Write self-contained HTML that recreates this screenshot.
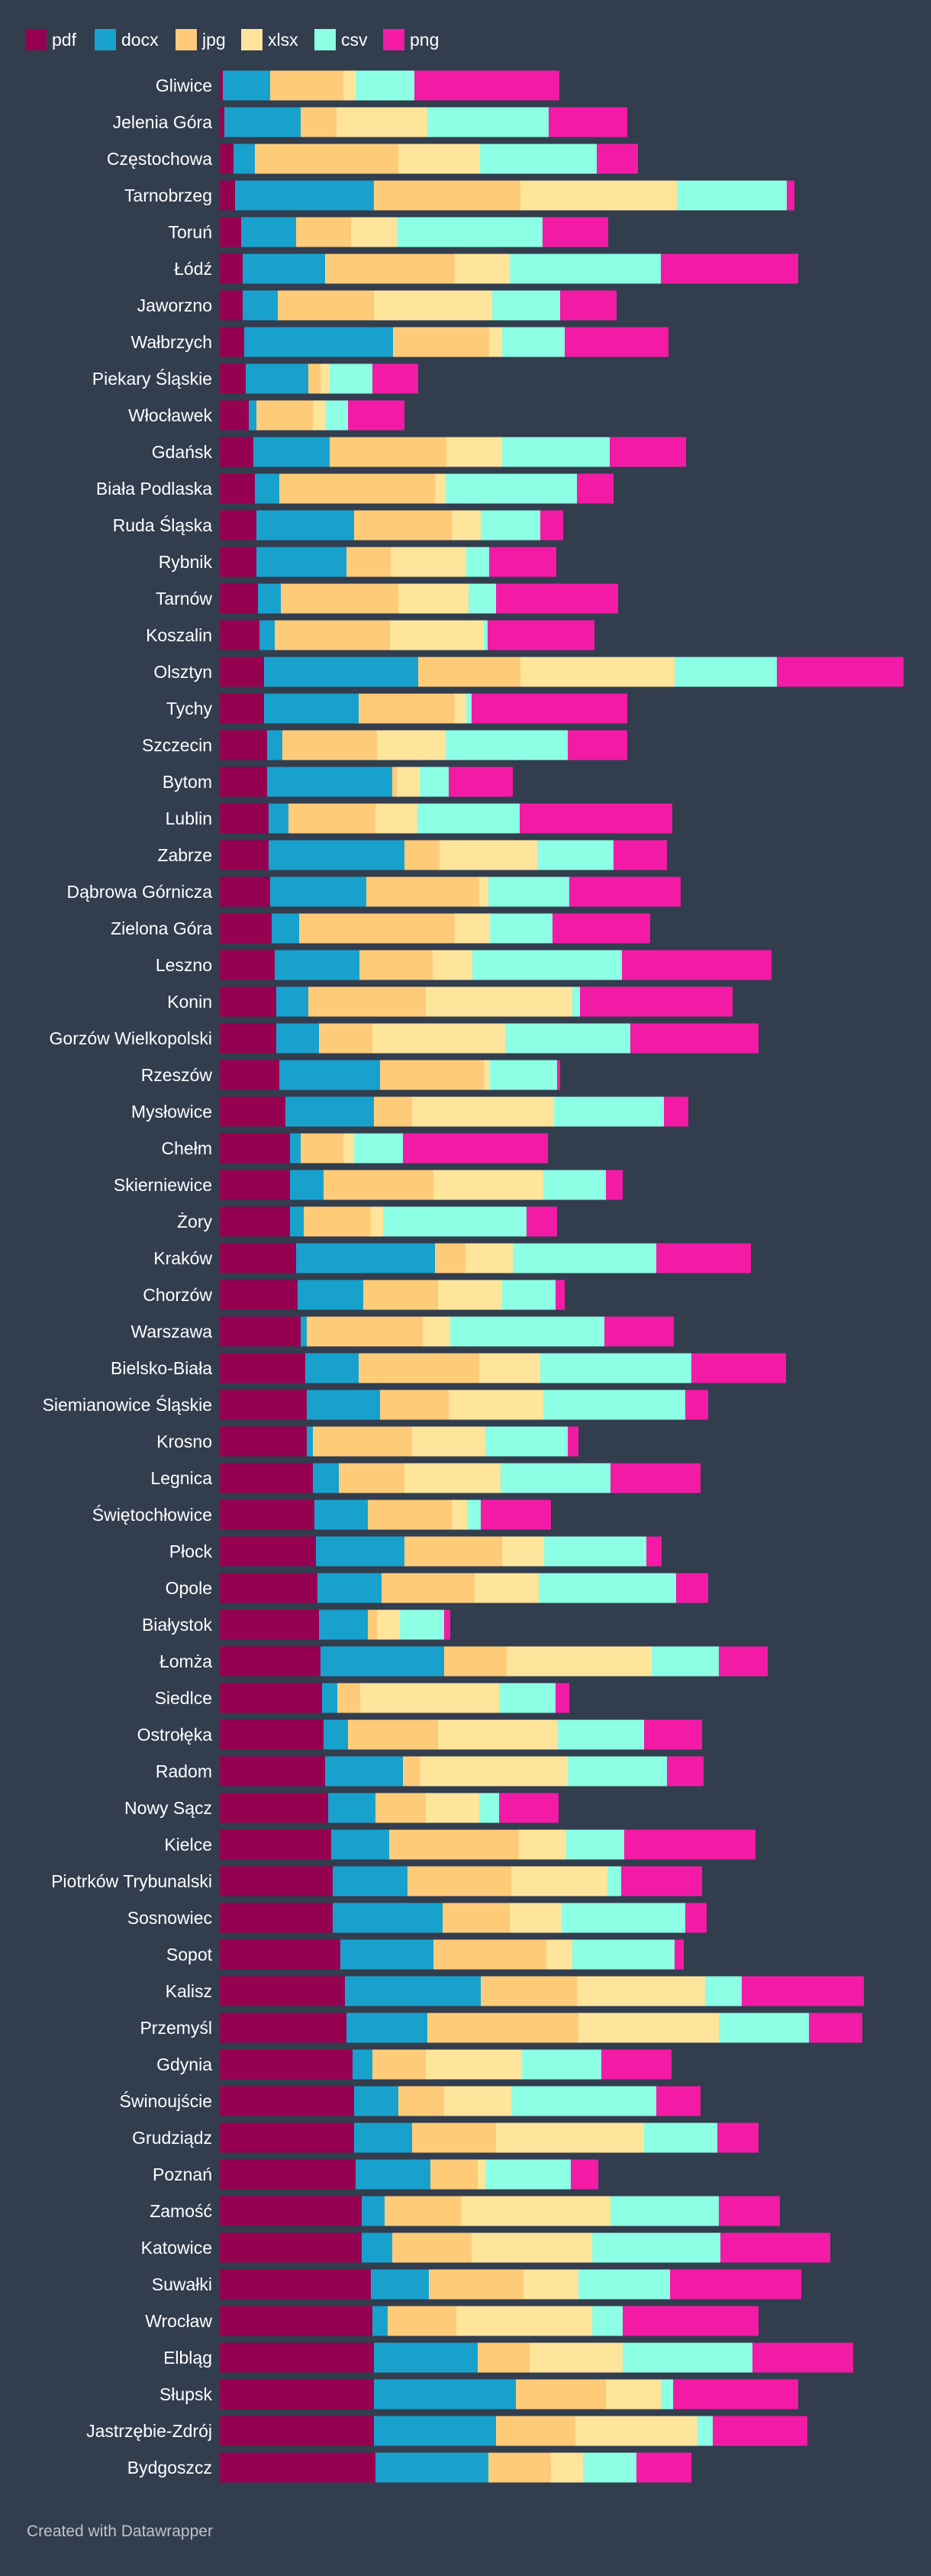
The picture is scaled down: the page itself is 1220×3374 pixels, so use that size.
<!DOCTYPE html>
<html><head><meta charset="utf-8">
<style>
html,body{margin:0;padding:0;background:#323d4e;}
body{width:1220px;height:3374px;position:relative;overflow:hidden;font-family:"Liberation Sans",Arial,sans-serif;}
</style></head>
<body>
<svg id="chart" width="1220" height="3374" xmlns="http://www.w3.org/2000/svg" style="position:absolute;left:0;top:0">
<rect x="0" y="0" width="1220" height="3374" fill="#323d4e"/>
<g id="legend"></g>
<g id="labels"></g>
<g id="bars"></g>
<text x="35" y="3322" font-size="21" fill="#bfc3c8" font-family="Liberation Sans, sans-serif">Created with Datawrapper</text>
</svg>
<script>
const categories = ["Gliwice","Jelenia Góra","Częstochowa","Tarnobrzeg","Toruń","Łódź","Jaworzno","Wałbrzych","Piekary Śląskie","Włocławek","Gdańsk","Biała Podlaska","Ruda Śląska","Rybnik","Tarnów","Koszalin","Olsztyn","Tychy","Szczecin","Bytom","Lublin","Zabrze","Dąbrowa Górnicza","Zielona Góra","Leszno","Konin","Gorzów Wielkopolski","Rzeszów","Mysłowice","Chełm","Skierniewice","Żory","Kraków","Chorzów","Warszawa","Bielsko-Biała","Siemianowice Śląskie","Krosno","Legnica","Świętochłowice","Płock","Opole","Białystok","Łomża","Siedlce","Ostrołęka","Radom","Nowy Sącz","Kielce","Piotrków Trybunalski","Sosnowiec","Sopot","Kalisz","Przemyśl","Gdynia","Świnoujście","Grudziądz","Poznań","Zamość","Katowice","Suwałki","Wrocław","Elbląg","Słupsk","Jastrzębie-Zdrój","Bydgoszcz"];
const seriesNames = ["pdf","docx","jpg","xlsx","csv","png"];
const seriesColors = ["#960050","#19a1cd","#fecb78","#ffe59c","#8dffe4","#f31ba6"];
const pdf  = [4,6,18,20,28,30,30,32,34,38,44,46,48,48,50,52,58,58,62,62,64,64,66,68,72,74,74,78,86,92,92,92,100,102,106,112,114,114,122,124,126,128,130,132,134,136,138,142,146,148,148,158,164,166,174,176,176,178,186,186,198,200,202,202,202,204];
const docx = [62,100,28,182,72,108,46,195,82,10,100,32,128,118,30,20,202,124,20,164,26,178,126,36,111,42,56,132,116,14,44,18,182,86,8,70,96,8,34,70,116,84,64,162,20,32,102,62,76,98,144,122,178,106,26,58,76,98,30,40,76,20,136,186,160,148];
const jpg  = [96,47,188,192,72,170,126,126,16,74,153,204,128,58,154,151,134,126,124,6,114,46,148,204,96,154,70,136,50,56,144,88,40,98,152,158,90,130,86,110,128,122,12,82,30,118,22,66,170,136,88,148,126,198,70,60,110,62,100,104,124,90,68,118,104,82];
const xlsx = [16,119,107,205,60,72,155,17,12,16,73,14,38,99,92,123,202,15,90,30,55,128,12,46,52,192,174,8,186,14,144,16,62,84,36,80,124,96,126,20,55,84,30,190,182,156,194,70,62,126,68,34,168,184,126,88,194,10,196,158,72,178,122,72,160,42];
const csv  = [77,159,153,144,191,198,89,82,56,30,141,172,78,30,36,5,134,7,160,38,134,100,106,82,196,10,164,88,144,64,82,188,188,70,202,198,186,108,144,18,134,180,58,88,74,114,130,26,76,18,162,134,48,118,104,190,96,112,142,168,120,40,170,16,20,70];
const png  = [190,103,54,10,86,180,74,136,60,74,100,48,30,88,160,140,166,204,78,84,200,70,146,128,196,200,168,4,32,190,22,40,124,12,91,124,30,14,118,92,20,42,8,64,18,76,48,78,172,106,28,12,160,70,92,58,54,36,80,144,172,178,132,164,124,72];
const series = [pdf,docx,jpg,xlsx,csv,png];

const NS = "http://www.w3.org/2000/svg";
const X0 = 288, DOMAIN_MAX = 900, RANGE_W = 900;
function xScale(v){ return X0 + v * RANGE_W / DOMAIN_MAX; }
const ROW_TOP = 92.5, ROW_STEP = 48, BAR_H = 39;
function yScale(i){ return ROW_TOP + i * ROW_STEP; }

// legend
const legend = document.getElementById('legend');
const legendX = [33,124,230,316,412,502];
seriesNames.forEach((n,k)=>{
  const r = document.createElementNS(NS,'rect');
  r.setAttribute('x', legendX[k]); r.setAttribute('y', 38);
  r.setAttribute('width', 28); r.setAttribute('height', 28);
  r.setAttribute('fill', seriesColors[k]);
  
  
  legend.appendChild(r);
  const t = document.createElementNS(NS,'text');
  t.setAttribute('x', legendX[k] + 35); t.setAttribute('y', 60);
  t.setAttribute('font-size', 23); t.setAttribute('fill', '#ffffff');
  t.textContent = n;
  
  
  legend.appendChild(t);
});

const labels = document.getElementById('labels');
const bars = document.getElementById('bars');
categories.forEach((c,i)=>{
  const y = yScale(i);
  const t = document.createElementNS(NS,'text');
  t.setAttribute('x', 278); t.setAttribute('y', y + BAR_H/2 + 8);
  t.setAttribute('text-anchor', 'end'); t.setAttribute('font-size', 23);
  t.setAttribute('fill', '#ffffff');
  t.textContent = c;
  
  
  labels.appendChild(t);
  let acc = 0;
  series.forEach((s,k)=>{
    const v = s[i];
    const r = document.createElementNS(NS,'rect');
    r.setAttribute('x', xScale(acc));
    r.setAttribute('y', y);
    r.setAttribute('width', Math.max(0, xScale(acc+v) - xScale(acc)));
    r.setAttribute('height', BAR_H);
    r.setAttribute('fill', seriesColors[k]);
    
    
    bars.appendChild(r);
    acc += v;
  });
});
</script>
</body></html>
